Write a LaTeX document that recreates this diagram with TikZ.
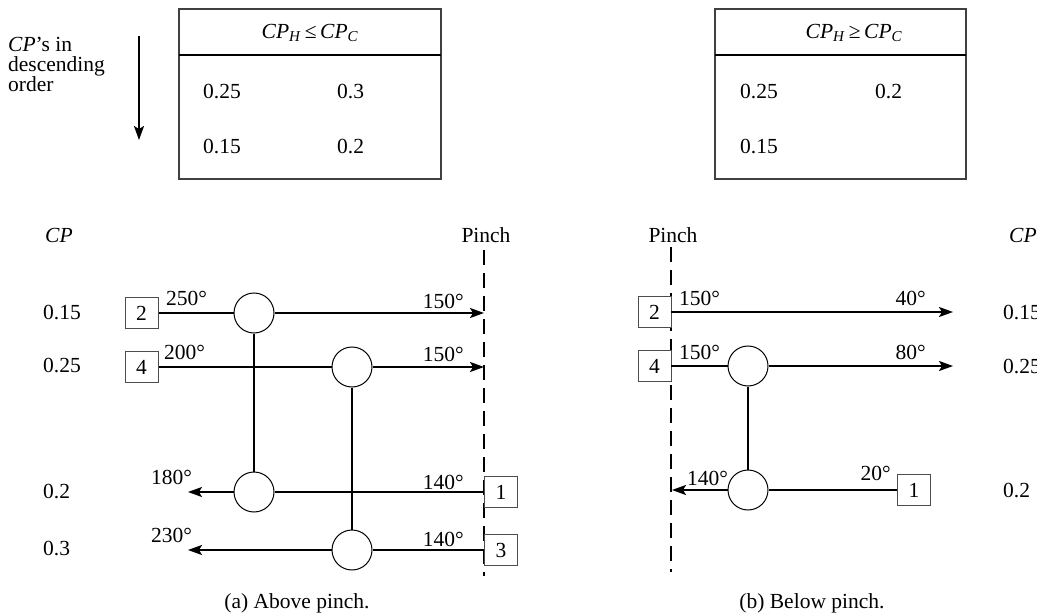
\documentclass[tikz,border=0pt]{standalone}
\usepackage{fontspec}
\setmainfont{Liberation Serif}
\usetikzlibrary{arrows.meta}
\begin{document}
\begin{tikzpicture}[x=1pt,y=-1pt,
  font=\fontsize{21.5}{20}\selectfont,
  flow/.style={line width=1.8pt},
  arr/.style={flow,-{Stealth[length=14pt,width=10pt,inset=3pt]}},
  hx/.style={circle,draw,line width=1pt,minimum size=40pt,inner sep=0pt,fill=white},
  num/.style={draw=black!70,line width=1pt,minimum width=33pt,minimum height=31pt,inner sep=0pt,fill=white},
  pinchline/.style={line width=1.8pt,dash pattern=on 15pt off 8pt},
  lbl/.style={inner sep=0pt},
  tbox/.style={draw=black!75,line width=1.3pt},
  tline/.style={line width=1.8pt}]
\useasboundingbox (0,0) rectangle (1037,615);

% ---- top: tables ----
\node[lbl,anchor=north west,align=left] (desc) at (8,37)
  {\textit{CP}'s in\\descending\\order};
\coordinate (dtop) at (139,36);
\coordinate (dbot) at (139,140);
\draw[arr] (dtop) -- (dbot);

\draw[tbox] (179,9) rectangle (441,179);
\draw[tline] (179,55) -- (441,55);
\node[lbl] (hA) at (310,33) {\textit{CP}\textsubscript{\textit{H}}\,≤\,\textit{CP}\textsubscript{\textit{C}}};
\node[lbl,anchor=west] (tA1) at (203,92) {0.25};
\node[lbl,anchor=west] (tA2) at (337,92) {0.3};
\node[lbl,anchor=west] (tA3) at (203,147) {0.15};
\node[lbl,anchor=west] (tA4) at (337,147) {0.2};

\draw[tbox] (715,9) rectangle (966,179);
\draw[tline] (715,55) -- (966,55);
\node[lbl] (hB) at (854,33) {\textit{CP}\textsubscript{\textit{H}}\,≥\,\textit{CP}\textsubscript{\textit{C}}};
\node[lbl,anchor=west] (tB1) at (740,92) {0.25};
\node[lbl,anchor=west] (tB2) at (875,92) {0.2};
\node[lbl,anchor=west] (tB3) at (740,147) {0.15};

% ---- (a) above pinch ----
\node[lbl,anchor=west] (cpA) at (45,235) {\textit{CP}};
\node[lbl] (pinA) at (486,235) {Pinch};
\coordinate (pAt) at (484,250);
\coordinate (pAb) at (484,576);
\draw[pinchline] (pAt) -- (pAb);

\node[lbl,anchor=west] (rA1) at (43,313) {0.15};
\node[lbl,anchor=west] (rA2) at (43,366) {0.25};
\node[lbl,anchor=west] (rA3) at (43,492) {0.2};
\node[lbl,anchor=west] (rA4) at (43,549) {0.3};

\node[num] (a2) at (141.5,313) {2};
\node[num] (a4) at (141.5,367) {4};
\node[num] (a1) at (501,492) {1};
\node[num] (a3) at (501,550) {3};

\node[hx] (c1) at (254,313) {};
\node[hx] (c2) at (352,367) {};
\node[hx] (c3) at (254,492) {};
\node[hx] (c4) at (352,550) {};

\coordinate (pA1) at (484,313);
\coordinate (pA2) at (484,367);
\coordinate (eA3) at (188,492);
\coordinate (eA4) at (188,550);

\draw[flow] (a2) -- (c1);
\draw[arr] (c1) -- (pA1);
\draw[flow] (a4) -- (c2);
\draw[arr] (c2) -- (pA2);
\draw[flow] (a1) -- (c3);
\draw[arr] (c3) -- (eA3);
\draw[flow] (a3) -- (c4);
\draw[arr] (c4) -- (eA4);
\draw[flow] (c1) -- (c3);
\draw[flow] (c2) -- (c4);

\node[lbl,anchor=west] at (166,298) {250°};
\node[lbl,anchor=east] at (464,301) {150°};
\node[lbl,anchor=west] at (164,352) {200°};
\node[lbl,anchor=east] at (464,354) {150°};
\node[lbl,anchor=west] at (151,477) {180°};
\node[lbl,anchor=east] at (464,482) {140°};
\node[lbl,anchor=west] at (151,535) {230°};
\node[lbl,anchor=east] at (464,539) {140°};

\node[lbl] (capA) at (297,603) {(a) Above pinch.};

% ---- (b) below pinch ----
\node[lbl] (pinB) at (673,235) {Pinch};
\node[lbl,anchor=west] (cpB) at (1009,235) {\textit{CP}};
\coordinate (pBt) at (671,247);
\coordinate (pBb) at (671,572);
\draw[pinchline] (pBt) -- (pBb);

\node[lbl,anchor=west] (rB1) at (1003,313) {0.15};
\node[lbl,anchor=west] (rB2) at (1003,367) {0.25};
\node[lbl,anchor=west] (rB3) at (1003,491) {0.2};

\node[num] (b2) at (654.5,312) {2};
\node[num] (b4) at (654.5,366) {4};
\node[num] (b1) at (914,490) {1};

\node[hx] (d2) at (748,366) {};
\node[hx] (d3) at (748,490) {};

\coordinate (sB1) at (671,312);
\coordinate (eB1) at (953,312);
\coordinate (sB2) at (671,366);
\coordinate (eB2) at (953,366);
\coordinate (eB3) at (672,490);

\draw[arr] (sB1) -- (eB1);
\draw[flow] (sB2) -- (d2);
\draw[arr] (d2) -- (eB2);
\draw[flow] (b1) -- (d3);
\draw[arr] (d3) -- (eB3);
\draw[flow] (d2) -- (d3);

\node[lbl,anchor=west] at (679,298) {150°};
\node[lbl,anchor=east] at (926,298) {40°};
\node[lbl,anchor=west] at (679,352) {150°};
\node[lbl,anchor=east] at (926,352) {80°};
\node[lbl,anchor=west] at (687,478) {140°};
\node[lbl,anchor=east] at (891,473) {20°};

\node[lbl] (capB) at (812,603) {(b) Below pinch.};
\end{tikzpicture}
\end{document}
